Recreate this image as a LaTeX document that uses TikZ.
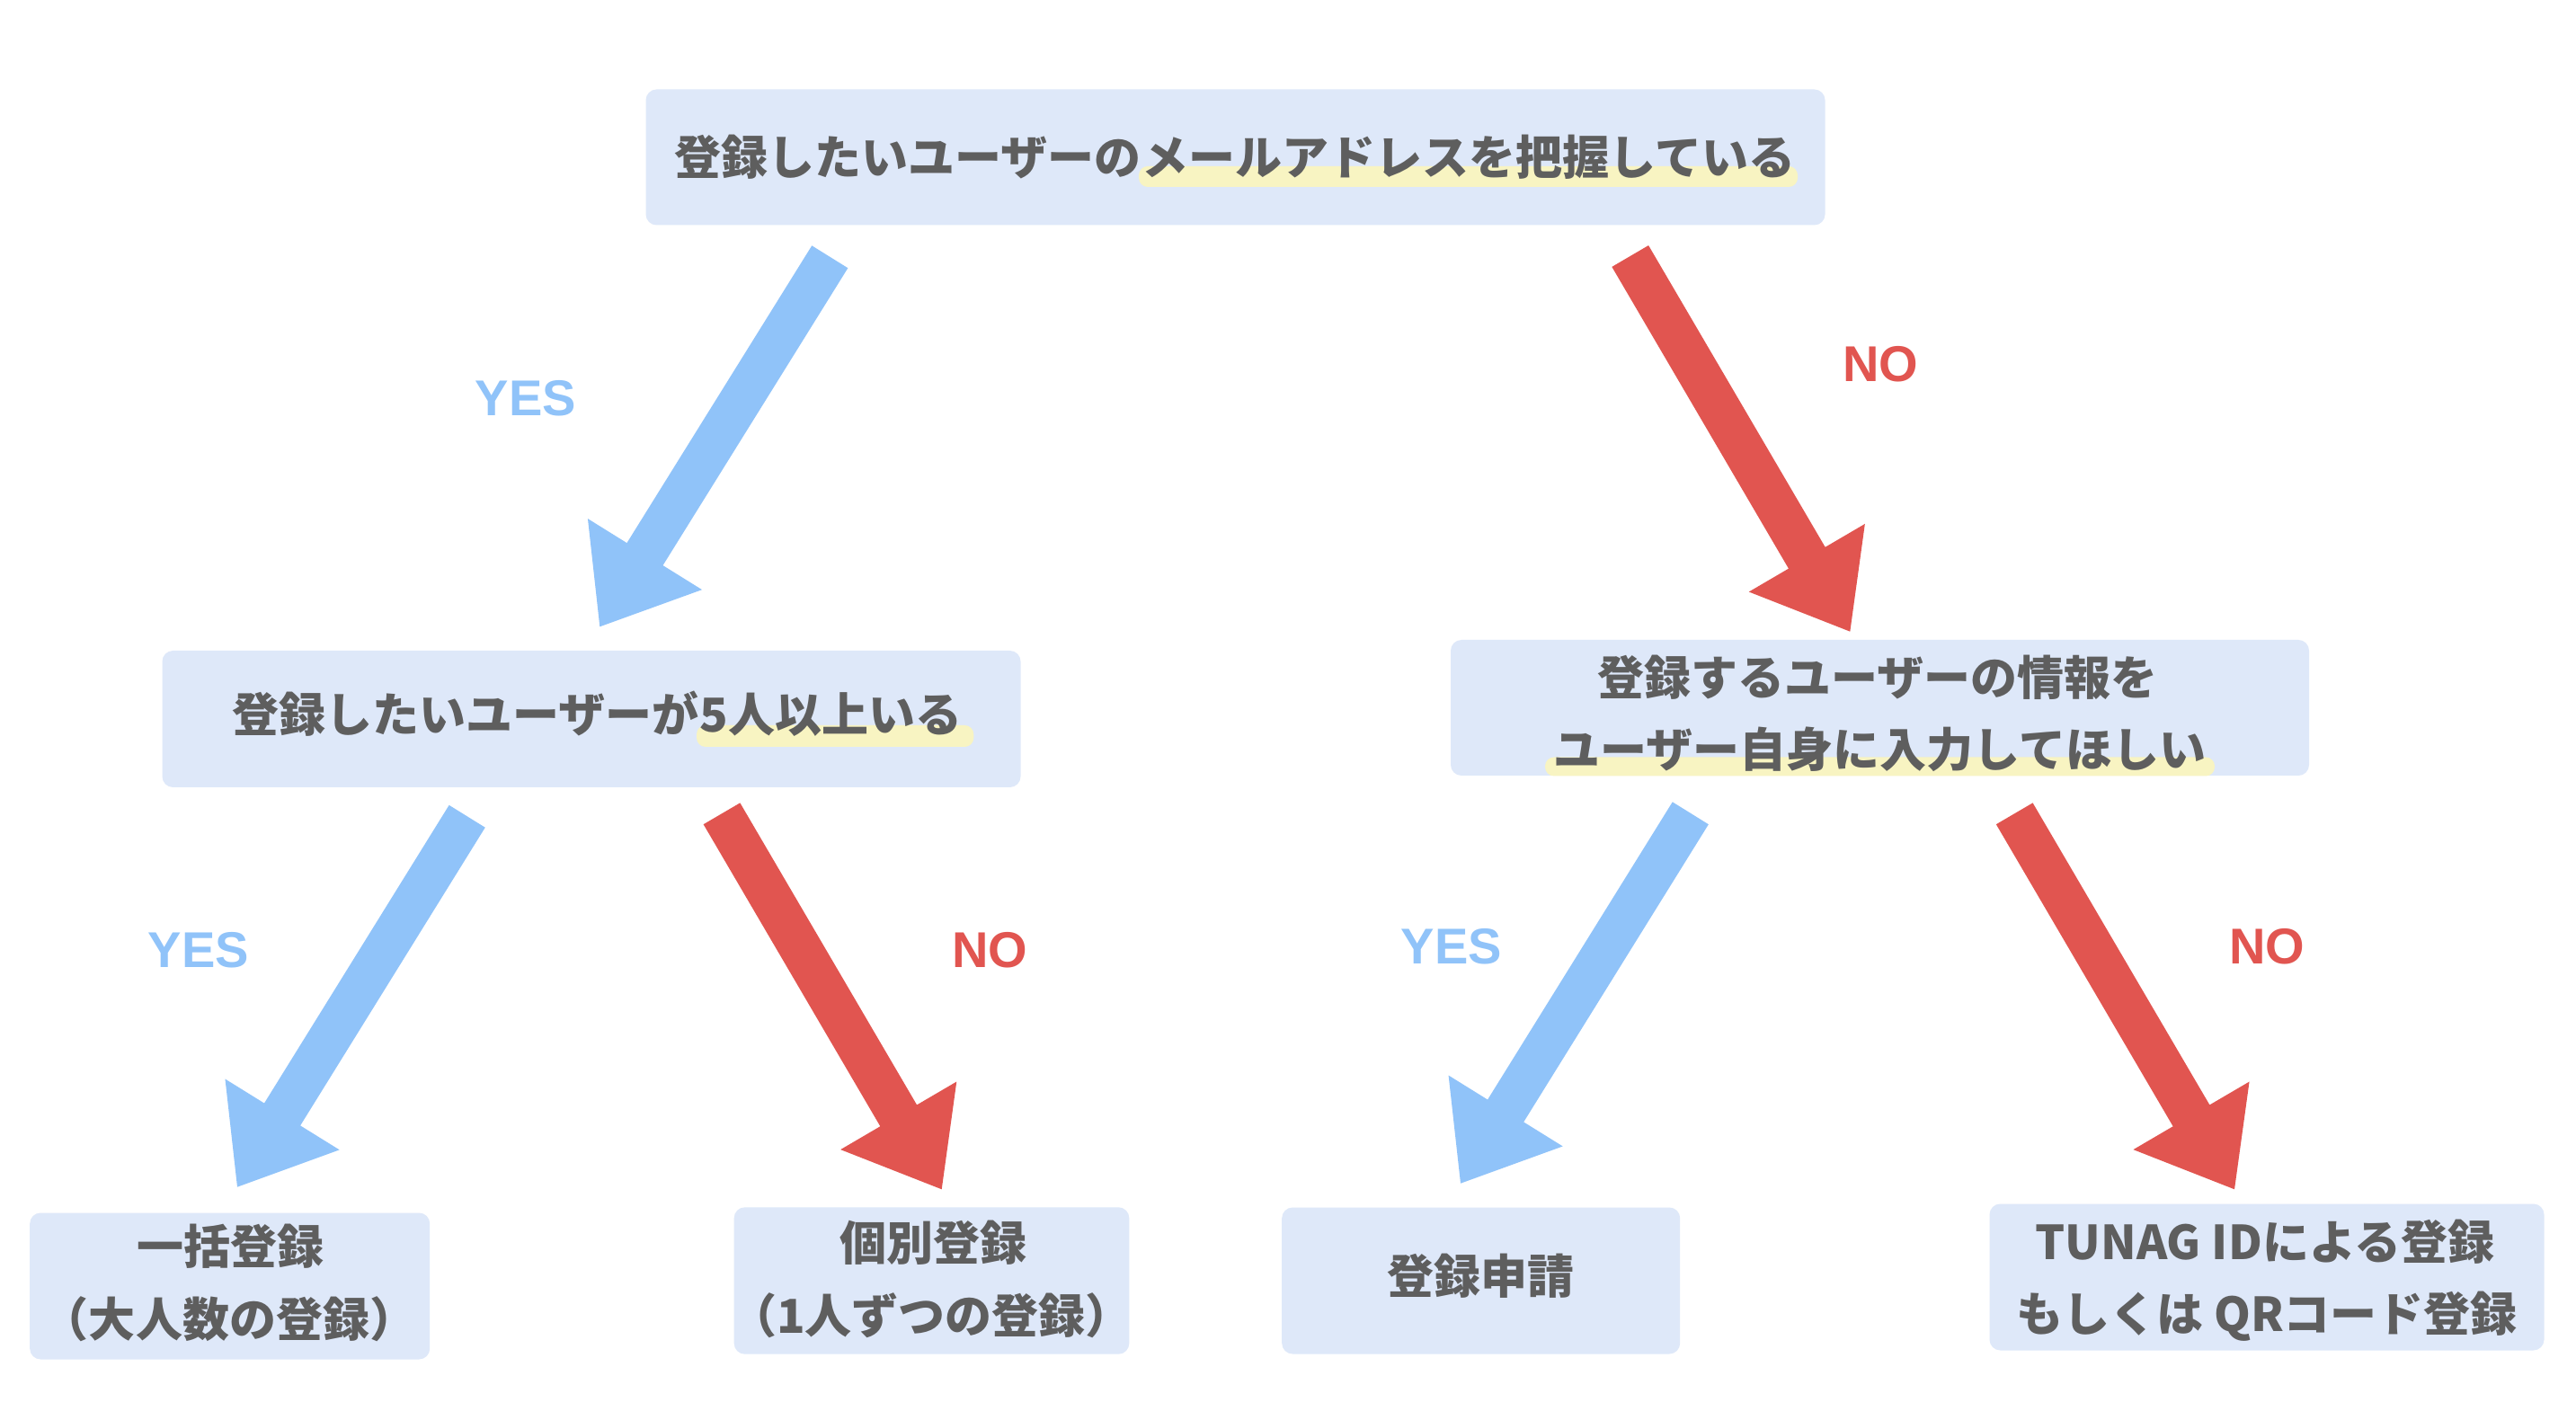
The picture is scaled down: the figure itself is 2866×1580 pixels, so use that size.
\documentclass[tikz,border=0pt]{standalone}
\usepackage{fontspec}
\usetikzlibrary{calc}
\newfontfamily\jpfont{Noto Sans CJK JP}
\newfontfamily\labfont{Liberation Sans}
\definecolor{boxc}{HTML}{DEE8F9}
\definecolor{hlc}{HTML}{F8F4C2}
\definecolor{txtc}{HTML}{5E5E5E}
\definecolor{yesc}{HTML}{90C3F9}
\definecolor{noc}{HTML}{E15550}
\pgfdeclarelayer{boxes}
\pgfdeclarelayer{marks}
\pgfsetlayers{boxes,marks,main}
\newcommand\fatarrow[3]{%
  \coordinate (#1b) at ($(#2)!23.75pt!(#1)$);
  \fill[#3] ($(#1)!5.9pt!90:(#2)$) -- ($(#1b)!5.9pt!90:(#2)$) -- ($(#1b)!18.7pt!90:(#2)$) -- (#2)
    -- ($(#1b)!18.7pt!-90:(#2)$) -- ($(#1b)!5.9pt!-90:(#2)$) -- ($(#1)!5.9pt!-90:(#2)$) -- cycle;
}
\tikzset{
  box/.style={fill=boxc, draw=none, rounded corners=3pt, inner sep=0pt},
  txt/.style={font=\jpfont\bfseries\fontsize{13pt}{16pt}\selectfont, text=txtc, inner sep=0pt},
  lab/.style={font=\labfont\bfseries\fontsize{14pt}{16pt}\selectfont, inner sep=0pt},
  hl/.style={fill=hlc, rounded corners=2.5pt}
}
\begin{document}
\begin{tikzpicture}[x=0.25pt,y=-0.25pt]
\useasboundingbox (0,0) rectangle (2866,1580);
\begin{pgfonlayer}{boxes}
  \fill[white] (0,0) rectangle (2866,1580);
  \node[box, minimum width=328pt, minimum height=37.75pt] (b1) at (1374.5,175) {};
  \node[box, minimum width=238.75pt, minimum height=38pt] (b2) at (658,800) {};
  \node[box, minimum width=238.75pt, minimum height=37.75pt] (b3) at (2091.5,787.5) {};
  \node[box, minimum width=111.25pt, minimum height=40.75pt] (b4) at (255.7,1431) {};
  \node[box, minimum width=109.9pt, minimum height=40.85pt] (b5) at (1036.5,1425) {};
  \node[box, minimum width=110.75pt, minimum height=40.75pt] (b6) at (1647.7,1425) {};
  \node[box, minimum width=154.25pt, minimum height=40.75pt] (b7) at (2522,1421) {};
\end{pgfonlayer}

% texts
\node[txt, anchor=base east] (t1a) at (1270,195) {登録したいユーザーの};
\node[txt, anchor=base west] (t1b) at (t1a.base east) {メールアドレスを把握している};
\node[txt, anchor=base east] (t2a) at (778,815) {登録したいユーザーが};
\node[txt, anchor=base west] (t2b) at (t2a.base east) {5人以上いる};
\node[txt, anchor=base] (t3a) at (2089,773.5) {登録するユーザーの情報を};
\node[txt, anchor=base] (t3b) at (2091.5,853.5) {ユーザー自身に入力してほしい};
\node[txt, anchor=base] (t4a) at (256,1406) {一括登録};
\node[txt, anchor=base] (t4b) at (255,1487) {（大人数の登録）};
\node[txt, anchor=base] (t5a) at (1038,1402.5) {個別登録};
\node[txt, anchor=base] (t5b) at (1036,1483) {（1人ずつの登録）};
\node[txt, anchor=base] (t6) at (1647.5,1439.5) {登録申請};
\node[txt, anchor=base] (t7a) at (2520,1401.5) {TUNAG IDによる登録};
\node[txt, anchor=base] (t7b) at (2522,1481.5) {もしくは QRコード登録};

\begin{pgfonlayer}{marks}
  \fill[hl] ($(t1b.base west)+(-3,-10)$) rectangle ($(t1b.base east)+(2,13)$);
  \fill[hl] ($(t2b.base west)+(-3,-8)$) rectangle ($(t2b.base east)+(12,16)$);
  \fill[hl] ($(t3b.base west)+(-9,-11)$) rectangle ($(t3b.base east)+(9,10)$);
\end{pgfonlayer}

% labels
\node[lab, text=yesc] (y1) at (585,443) {YES};
\node[lab, text=noc] (n1) at (2092,405) {NO};
\node[lab, text=yesc] (y2) at (221,1057) {YES};
\node[lab, text=noc] (n2) at (1101.5,1057) {NO};
\node[lab, text=yesc] (y3) at (1615,1053) {YES};
\node[lab, text=noc] (n3) at (2522.5,1053) {NO};

% arrows
\coordinate (a1s) at (923.3,285.8);  \coordinate (a1t) at (667.3,697.3);
\coordinate (a2s) at (1813.7,285);   \coordinate (a2t) at (2058.3,702.7);
\coordinate (a3s) at (519.7,908.3);  \coordinate (a3t) at (264,1320.7);
\coordinate (a4s) at (803,905.3);    \coordinate (a4t) at (1047.7,1323.3);
\coordinate (a5s) at (1880.8,904.8); \coordinate (a5t) at (1625,1316.7);
\coordinate (a6s) at (2241.2,905.3); \coordinate (a6t) at (2486,1323.3);
\fatarrow{a1s}{a1t}{yesc}
\fatarrow{a2s}{a2t}{noc}
\fatarrow{a3s}{a3t}{yesc}
\fatarrow{a4s}{a4t}{noc}
\fatarrow{a5s}{a5t}{yesc}
\fatarrow{a6s}{a6t}{noc}
\end{tikzpicture}
\end{document}
